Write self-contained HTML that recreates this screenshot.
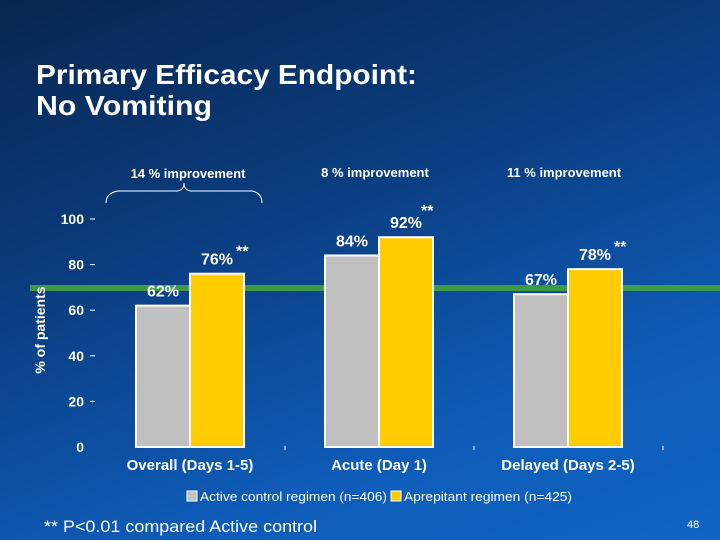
<!DOCTYPE html>
<html><head><meta charset="utf-8"><style>
body{margin:0;width:720px;height:540px;overflow:hidden;font-family:"Liberation Sans",sans-serif}
#bg{position:absolute;left:0;top:0;width:720px;height:540px;background:linear-gradient(160deg,#08264f 0%,#0b3e82 40%,#0e5cb8 75%,#1064c4 100%)}
</style></head><body>
<div id="bg"></div>
<svg width="720" height="540" style="position:absolute;left:0;top:0">
<text x="36" y="84" font-size="28" font-weight="bold" fill="#fff" textLength="381" lengthAdjust="spacingAndGlyphs">Primary Efficacy Endpoint:</text>
<text x="36" y="115" font-size="28" font-weight="bold" fill="#fff" textLength="176" lengthAdjust="spacingAndGlyphs">No Vomiting</text>
<rect x="30" y="285" width="690" height="6" fill="#3f9a46"/>
<g id="g"></g>
<path d="M106,203 Q106,193 118,191 L176,191 Q184,191 184,183 Q184,191 192,191 L252,191 Q262,193 262,203" fill="none" stroke="#fff" stroke-width="1"/>
<text x="45" y="330" font-size="14" font-weight="bold" fill="#fff" transform="rotate(-90 45 330)" text-anchor="middle">% of patients</text>
<rect x="187" y="491" width="10" height="10" fill="#c0c0c0" stroke="#fff"/>
<text x="200" y="501" font-size="13" fill="#fff" textLength="187" lengthAdjust="spacingAndGlyphs">Active control regimen (n=406)</text>
<rect x="391" y="491" width="10" height="10" fill="#ffcc00" stroke="#fff"/>
<text x="404" y="501" font-size="13" fill="#fff" textLength="168" lengthAdjust="spacingAndGlyphs">Aprepitant regimen (n=425)</text>
<text x="44" y="532" font-size="17" fill="#fff" textLength="273" lengthAdjust="spacingAndGlyphs">** P&lt;0.01 compared Active control</text>
<text x="687" y="528" font-size="11" fill="#fff">48</text>
</svg>
<script>
const categories=["Overall (Days 1-5)","Acute (Day 1)","Delayed (Days 2-5)"];
const controlValues=[62,84,67];
const aprepitantValues=[76,92,78];
const improvements=["14 % improvement","8 % improvement","11 % improvement"];
const yTicks=[0,20,40,60,80,100];
const y=v=>447-v*2.28;
const cx=i=>190+i*189;
const g=document.getElementById('g');
const NS="http://www.w3.org/2000/svg";
function mk(t,a,txt){const e=document.createElementNS(NS,t);for(const k in a)e.setAttribute(k,a[k]);if(txt!=null)e.textContent=txt;g.appendChild(e);return e;}
yTicks.forEach(v=>{
 const t=mk('text',{x:84,y:y(v)+5,'font-size':14,'font-weight':'bold',fill:'#fff','text-anchor':'end'},v);
 
 
 if(v>0){const l=mk('line',{x1:90,x2:95,y1:y(v),y2:y(v),stroke:'#fff'});
 
 }
});
categories.forEach((c,i)=>{
 const x=cx(i);
 const b1=mk('rect',{x:x-54,y:y(controlValues[i]),width:54,height:y(0)-y(controlValues[i]),fill:'#c0c0c0',stroke:'#fff','stroke-width':2});
 
 
 const b2=mk('rect',{x:x,y:y(aprepitantValues[i]),width:54,height:y(0)-y(aprepitantValues[i]),fill:'#ffcc00',stroke:'#fff','stroke-width':2});
 
 
 const l1=mk('text',{x:x-27,y:y(controlValues[i])-9,'font-size':16,'font-weight':'bold',fill:'#fff','text-anchor':'middle'},controlValues[i]+'%');
 
 
 const l2=mk('text',{x:x+27,y:y(aprepitantValues[i])-9,'font-size':16,'font-weight':'bold',fill:'#fff','text-anchor':'middle'},aprepitantValues[i]+'%');
 
 
 const s=mk('text',{x:x+(i==1?42:46),y:y(aprepitantValues[i])-(i==1?21:17),'font-size':16,'font-weight':'bold',fill:'#fff'},'**');
 
 
 const cl=mk('text',{x:x,y:470,'font-size':15,'font-weight':'bold',fill:'#fff','text-anchor':'middle'},c);
 
 
 const im=mk('text',{x:i==0?188:x-4,y:i==0?178:177,'font-size':13,'font-weight':'bold',fill:'#fff','text-anchor':'middle'},improvements[i]);
 
 
 const tk=mk('line',{x1:x+95,x2:x+95,y1:446,y2:450,stroke:'#fff'});
 
 
});
</script>
</body></html>
